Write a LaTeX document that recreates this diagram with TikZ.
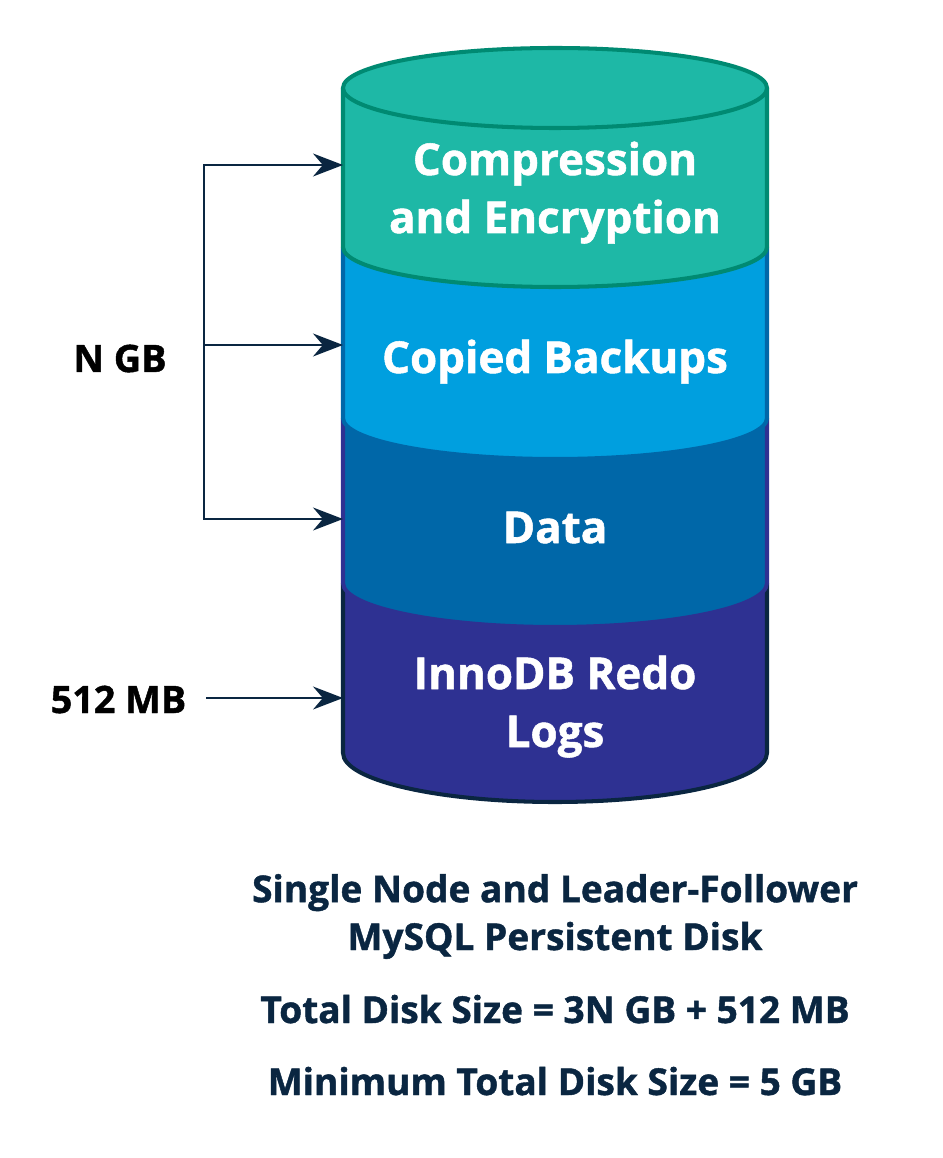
\documentclass[tikz,border=0pt]{standalone}
\usepackage{fontspec}
\setmainfont{Open Sans}[BoldFeatures={FakeBold=1.2}]
\usepackage{tikz}
\usetikzlibrary{arrows.meta,positioning}

\definecolor{tealfill}{HTML}{1EB8A6}
\definecolor{tealline}{HTML}{008A72}
\definecolor{backupfill}{HTML}{009FDF}
\definecolor{datafill}{HTML}{0067A8}
\definecolor{redofill}{HTML}{2E3192}
\definecolor{navy}{HTML}{0A2641}

\begin{document}
\begin{tikzpicture}[x=0.02cm,y=0.02cm,
  layer/.style={line width=2.3pt},
  lbl/.style={text=white,font=\bfseries\fontsize{25}{33}\selectfont,align=center,anchor=base},
  side/.style={font=\bfseries\fontsize{21.5}{24}\selectfont,anchor=base,inner xsep=11.3pt},
  note/.style={text=navy,font=\bfseries\fontsize{21.1}{27.2}\selectfont,align=center,anchor=base},
  wire/.style={draw=navy,line width=1.4pt},
  arr/.style={wire,-{Stealth[length=17pt,width=13pt]}}]
  \useasboundingbox (0,0) rectangle (942,-1158);
  % cylinder, bottom layer first
  \filldraw[layer,fill=redofill,draw=navy] (343,-583) -- (343,-753)
    arc[start angle=180,end angle=360,x radius=212,y radius=49] -- (767,-583);
  \filldraw[layer,fill=datafill,draw=redofill] (343,-418) -- (343,-583)
    arc[start angle=180,end angle=360,x radius=212,y radius=44] -- (767,-418);
  \filldraw[layer,fill=backupfill,draw=datafill] (343,-247) -- (343,-418)
    arc[start angle=180,end angle=360,x radius=212,y radius=41] -- (767,-247);
  \filldraw[layer,fill=tealfill,draw=tealline] (343,-88) -- (343,-247)
    arc[start angle=180,end angle=360,x radius=212,y radius=40] -- (767,-88);
  \filldraw[layer,fill=tealfill,draw=tealline] (555,-88) ellipse[x radius=212,y radius=40];
  % layer labels (base = last line)
  \node[lbl] (comp) at (555,-233) {Compression\\and Encryption};
  \node[lbl] (copied) at (555,-373) {Copied Backups};
  \node[lbl] (data) at (555,-543) {Data};
  \node[lbl] (redo) at (555,-747) {InnoDB Redo\\Logs};
  % sizes
  \node[side] (ngb) at (120,-372) {N GB};
  \node[side] (mb) at (118.5,-713) {512 MB};
  \coordinate (tc) at (343,-165);
  \coordinate (tb) at (343,-345);
  \coordinate (td) at (343,-519);
  \coordinate (tr) at (343,-698);
  \coordinate (j1) at (204,-165);
  \coordinate (j2) at (204,-345);
  \coordinate (j3) at (204,-519);
  \draw[wire,line cap=rect] (j1) -- (j3);
  \draw[arr] (j1) -- (tc);
  \draw[arr] (j2) -- (tb);
  \draw[arr] (j3) -- (td);
  \draw[arr] (mb.east |- tr) -- (tr);
  % caption
  \node[note] (title) at (555,-950) {Single Node and Leader-Follower\\MySQL Persistent Disk};
  \node[note] (total) at (555,-1023) {Total Disk Size = 3N GB + 512 MB};
  \node[note] (minimum) at (555,-1095) {Minimum Total Disk Size = 5 GB};
\end{tikzpicture}
\end{document}
